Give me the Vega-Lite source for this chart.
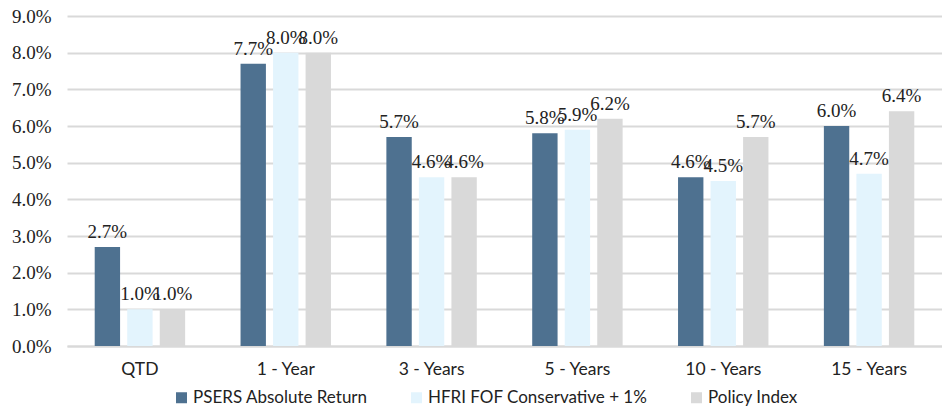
{
  "$schema": "https://vega.github.io/schema/vega-lite/v6.json",
  "width": 875,
  "height": 330,
  "autosize": "none",
  "padding": {"left": 67, "top": 16, "right": 0, "bottom": 64},
  "background": "white",
  "config": {"view": {"stroke": null}},
  "data": {
    "values": [
      {"period": "QTD", "series": "PSERS Absolute Return", "value": 0.027},
      {"period": "QTD", "series": "HFRI FOF Conservative + 1%", "value": 0.010},
      {"period": "QTD", "series": "Policy Index", "value": 0.010},
      {"period": "1 - Year", "series": "PSERS Absolute Return", "value": 0.077},
      {"period": "1 - Year", "series": "HFRI FOF Conservative + 1%", "value": 0.080},
      {"period": "1 - Year", "series": "Policy Index", "value": 0.080},
      {"period": "3 - Years", "series": "PSERS Absolute Return", "value": 0.057},
      {"period": "3 - Years", "series": "HFRI FOF Conservative + 1%", "value": 0.046},
      {"period": "3 - Years", "series": "Policy Index", "value": 0.046},
      {"period": "5 - Years", "series": "PSERS Absolute Return", "value": 0.058},
      {"period": "5 - Years", "series": "HFRI FOF Conservative + 1%", "value": 0.059},
      {"period": "5 - Years", "series": "Policy Index", "value": 0.062},
      {"period": "10 - Years", "series": "PSERS Absolute Return", "value": 0.046},
      {"period": "10 - Years", "series": "HFRI FOF Conservative + 1%", "value": 0.045},
      {"period": "10 - Years", "series": "Policy Index", "value": 0.057},
      {"period": "15 - Years", "series": "PSERS Absolute Return", "value": 0.060},
      {"period": "15 - Years", "series": "HFRI FOF Conservative + 1%", "value": 0.047},
      {"period": "15 - Years", "series": "Policy Index", "value": 0.064}
    ]
  },
  "encoding": {
    "x": {
      "field": "period", "type": "nominal", "sort": null,
      "scale": {"paddingInner": 0.38, "paddingOuter": 0.19},
      "axis": {"title": null, "labelAngle": 0, "labelFont": "Lato", "labelFontSize": 17.5, "labelColor": "#222", "ticks": false, "domainColor": "#d9d9d9", "domainWidth": 2, "labelPadding": 14}
    },
    "xOffset": {"field": "series", "type": "nominal", "sort": ["PSERS Absolute Return", "HFRI FOF Conservative + 1%", "Policy Index"], "scale": {"paddingInner": 0.22}},
    "y": {
      "field": "value", "type": "quantitative",
      "scale": {"domain": [0, 0.09], "nice": false},
      "axis": {"title": null, "format": ".1%", "values": [0, 0.01, 0.02, 0.03, 0.04, 0.05, 0.06, 0.07, 0.08, 0.09], "labelOverlap": false, "labelFont": "Liberation Serif", "labelFontSize": 19, "labelColor": "#222", "ticks": false, "domain": false, "gridColor": "#d9d9d9", "gridWidth": 2, "labelPadding": 16}
    }
  },
  "layer": [
    {
      "mark": {"type": "bar"},
      "encoding": {
        "color": {
          "field": "series", "type": "nominal",
          "scale": {"domain": ["PSERS Absolute Return", "HFRI FOF Conservative + 1%", "Policy Index"], "range": ["#4E7190", "#E3F4FD", "#D9D9D9"]},
          "legend": {"title": null, "orient": "none", "legendX": 106, "legendY": 373, "direction": "horizontal", "symbolType": "square", "symbolSize": 121, "labelFont": "Lato", "labelFontSize": 17, "labelColor": "#222", "labelLimit": 0, "columnPadding": 40, "symbolStrokeWidth": 0, "labelOffset": 3}
        }
      }
    },
    {
      "mark": {"type": "text", "baseline": "bottom", "dy": -5, "font": "Liberation Serif", "fontSize": 19, "color": "#222"},
      "encoding": {
        "text": {"field": "value", "type": "quantitative", "format": ".1%"}
      }
    }
  ]
}
